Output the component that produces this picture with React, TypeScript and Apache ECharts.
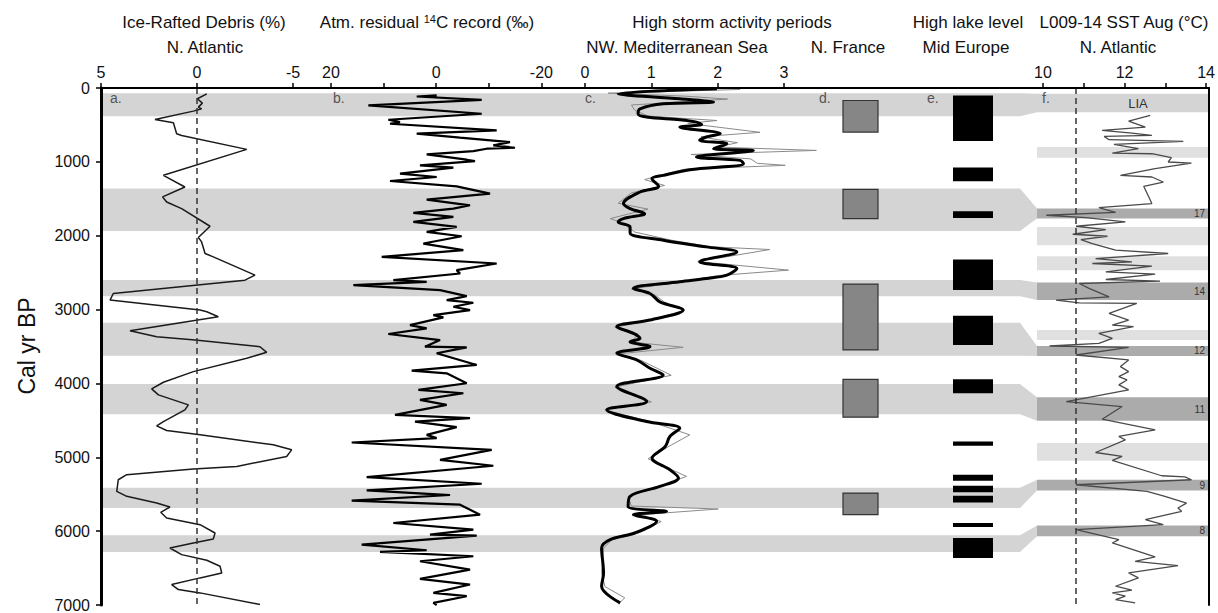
import React, { useEffect, useRef } from 'react';
import * as echarts from 'echarts';

const FONT = '"Liberation Sans", Arial, Helvetica, sans-serif';

// ---- data: [value, cal yr BP] ----
const irdData: number[][] = [
  [-0.51, 79], [-0.02, 146], [-0.28, 205], [-0.07, 259], [-0.24, 282], [0.19, 313], [2.19, 426], [1.23, 471],
  [1.06, 619], [0.8, 642], [-2.59, 831], [1.75, 1182], [0.63, 1340], [1.79, 1475], [1.58, 1543], [0.8, 1633],
  [-0.68, 1872], [-0.07, 2025], [-0.24, 2084], [-0.42, 2241], [-0.85, 2286], [-3.02, 2534], [-2.5, 2602],
  [4.36, 2782], [4.53, 2872], [-0.16, 3007], [-0.51, 3030], [-1.11, 3097], [3.49, 3286], [2.1, 3368], [0.1, 3413],
  [-3.28, 3503], [-3.63, 3579], [-2.59, 3660], [0.19, 3840], [1.75, 3984], [2.36, 4074], [2.01, 4155], [0.45, 4290],
  [0.63, 4358], [1.75, 4516], [2.1, 4574], [1.58, 4637], [-0.16, 4696], [-3.97, 4831], [-4.93, 4899], [-4.67, 4989],
  [-2.07, 5124], [0.19, 5160], [3.66, 5236], [4.1, 5304], [4.18, 5462], [3.66, 5529], [2.1, 5619], [1.41, 5673],
  [1.89, 5745], [1.58, 5822], [-0.16, 5912], [-0.94, 6025], [-0.85, 6106], [0.19, 6160], [1.41, 6228], [0.8, 6318],
  [-0.51, 6394], [-1.2, 6475], [-1.29, 6566], [-0.16, 6633], [1.32, 6723], [0.97, 6791], [-0.16, 6836], [-3.28, 6993]
];

const c14Data: number[][] = [
  [-0.09, 101], [3.71, 115], [-8.65, 160], [12.9, 236], [-8.65, 349], [9.1, 430], [6.88, 462], [8.78, 484],
  [-11.5, 574], [3.71, 619], [-4.53, 673], [-14.03, 732], [-10.86, 777], [-14.98, 809], [-9.6, 822], [-7.06, 854],
  [1.81, 899], [-5.8, 971], [-7.38, 989], [3.08, 1047], [-3.26, 1079], [6.88, 1160], [-0.09, 1205], [8.78, 1259],
  [-3.89, 1331], [-10.23, 1430], [1.81, 1511], [-6.43, 1588], [-3.26, 1633], [4.34, 1692], [-3.26, 1746],
  [4.34, 1813], [-3.89, 1881], [1.81, 1948], [-4.84, 2007], [2.44, 2106], [-5.16, 2196], [10.36, 2286],
  [-11.5, 2376], [-3.89, 2466], [-4.53, 2512], [8.15, 2602], [1.81, 2624], [15.75, 2669], [-0.73, 2737],
  [-5.8, 2818], [-1.99, 2872], [-7.06, 2908], [-3.26, 2962], [-6.43, 3007], [0.54, 3075], [-1.36, 3106],
  [4.98, 3210], [1.81, 3255], [9.1, 3331], [-0.73, 3413], [2.13, 3502], [-5.8, 3511], [-0.09, 3592], [-7.7, 3750],
  [4.66, 3826], [-1.99, 3863], [-5.8, 3998], [3.39, 4088], [-5.16, 4133], [3.08, 4223], [-1.99, 4290], [7.83, 4426],
  [-6.43, 4471], [4.03, 4516], [-3.89, 4592], [1.81, 4696], [-0.09, 4741], [16.07, 4800], [-10.55, 4899],
  [-0.73, 5034], [-10.86, 5115], [13.22, 5268], [-8.65, 5358], [13.22, 5448], [-2.63, 5511], [16.07, 5588],
  [-4.53, 5642], [-8.33, 5777], [8.15, 5890], [-7.06, 5980], [1.18, 6047], [-7.7, 6061], [14.17, 6183],
  [1.81, 6259], [10.68, 6282], [-7.06, 6340], [3.08, 6408], [-6.43, 6520], [3.08, 6647], [-6.43, 6723],
  [0.54, 6836], [-5.8, 6881], [0.54, 6971], [-0.09, 7000]
];

const stormSmooth: number[][] = [
  [1.99, 11], [0.5, 79], [1.43, 146], [1.94, 191], [1.18, 214], [0.83, 282], [0.8, 349], [0.93, 394], [1.43, 430],
  [1.68, 462], [1.76, 493], [1.43, 529], [2.04, 619], [1.83, 664], [1.73, 709], [2.14, 754], [1.94, 822],
  [2.54, 845], [1.68, 935], [2.34, 980], [2.39, 1025], [1.58, 1106], [1.18, 1183], [1.01, 1228], [1.11, 1331],
  [0.83, 1408], [0.58, 1565], [0.68, 1633], [0.9, 1701], [0.58, 1768], [0.5, 1813], [0.68, 1881], [0.68, 1962],
  [1.18, 2061], [1.83, 2151], [2.29, 2219], [1.73, 2354], [2.29, 2444], [2.14, 2534], [1.83, 2579], [1.43, 2624],
  [0.73, 2714], [0.98, 2782], [1.13, 2895], [1.48, 3007], [0.98, 3142], [0.48, 3232], [0.73, 3322], [0.83, 3390],
  [0.68, 3435], [0.98, 3502], [0.48, 3592], [0.78, 3682], [0.98, 3795], [1.18, 3885], [0.48, 4043], [0.93, 4245],
  [0.33, 4358], [0.93, 4516], [1.43, 4606], [1.28, 4718], [1.21, 4854], [1.01, 5011], [1.28, 5169], [1.41, 5282],
  [1.13, 5394], [0.68, 5529], [0.65, 5665], [1.23, 5732], [0.73, 5777], [1.08, 5867], [0.75, 6025], [0.38, 6115],
  [0.25, 6228], [0.28, 6566], [0.25, 6746], [0.53, 6971]
];

const stormRaw: number[][] = [
  [2.34, 20], [0.35, 70], [1.5, 110], [2.15, 150], [0.7, 230], [0.75, 300], [0.95, 380], [1.99, 440], [1.55, 480],
  [2.64, 600], [1.75, 660], [2.0, 700], [2.3, 740], [2.0, 800], [3.49, 845], [1.6, 900], [2.5, 960], [2.6, 1020],
  [3.02, 1047], [1.5, 1100], [1.1, 1190], [0.9, 1240], [1.2, 1320], [0.7, 1420], [0.5, 1560], [0.95, 1640],
  [0.38, 1768], [0.55, 1820], [0.75, 1950], [1.3, 2060], [1.9, 2150], [2.79, 2187], [1.7, 2350], [3.07, 2466],
  [2.0, 2540], [1.5, 2620], [0.7, 2720], [1.05, 2800], [1.2, 2900], [1.5, 3010], [1.0, 3140], [0.45, 3240],
  [0.8, 3330], [0.7, 3440], [1.48, 3511], [0.5, 3600], [0.85, 3690], [1.1, 3800], [1.3, 3890], [0.45, 4050],
  [1.0, 4250], [0.3, 4360], [1.0, 4520], [1.58, 4696], [1.25, 4860], [0.95, 5020], [1.53, 5259], [1.1, 5400],
  [0.65, 5530], [0.7, 5660], [2.01, 5700], [0.8, 5780], [1.15, 5870], [0.8, 6030], [0.4, 6120], [0.28, 6230],
  [0.25, 6560], [0.3, 6750], [0.6, 6903], [0.5, 6990]
];

const sstData: number[][] = [
  [12.63, 372], [12.1, 448], [12.51, 529], [11.45, 574], [12.18, 610], [12.67, 642], [11.5, 655], [11.62, 700],
  [13.44, 723], [11.74, 764], [12.34, 822], [11.7, 881], [12.67, 890], [13.15, 944], [13.07, 1002], [13.64, 1016],
  [12.75, 1092], [11.9, 1182], [12.67, 1205], [12.95, 1273], [12.47, 1331], [12.67, 1565], [11.37, 1620],
  [11.78, 1683], [10.08, 1723], [11.05, 1755], [12.02, 1813], [10.81, 1872], [11.54, 1917], [10.73, 1980],
  [11.58, 2007], [10.93, 2052], [11.21, 2106], [11.78, 2196], [13.07, 2241], [11.29, 2309], [12.18, 2354],
  [11.21, 2376], [12.67, 2412], [11.54, 2489], [12.75, 2520], [11.54, 2593], [12.87, 2615], [10.89, 2647],
  [11.13, 2714], [11.62, 2827], [10.32, 2872], [10.89, 2908], [12.3, 2917], [11.62, 3052], [12.1, 3142],
  [11.7, 3210], [12.22, 3232], [11.37, 3322], [11.7, 3390], [11.37, 3458], [10.16, 3493], [12.1, 3511],
  [10.81, 3615], [12.1, 3682], [11.9, 3772], [12.1, 3840], [11.86, 3908], [12.06, 3953], [11.86, 4020],
  [12.1, 4088], [10.57, 4245], [11.94, 4313], [11.45, 4484], [12.75, 4628], [11.86, 4718], [12.02, 4764],
  [11.29, 4935], [11.94, 4989], [11.7, 5043], [12.91, 5250], [13.48, 5265], [13.64, 5304], [10.81, 5372],
  [12.55, 5462], [12.99, 5529], [13.52, 5620], [13.31, 5687], [13.4, 5732], [12.51, 5845], [12.95, 5912],
  [10.81, 5980], [11.86, 6115], [11.7, 6160], [12.75, 6349], [12.26, 6408], [13.31, 6466], [12.1, 6566],
  [12.34, 6633], [11.78, 6746], [12.18, 6800], [11.7, 6836], [12.02, 6881], [11.78, 6926], [12.26, 6971]
];

// [start, end] of N. France storm periods and Mid-Europe high lake levels
const franceStorms: number[][] = [[169, 597], [1372, 1768], [2655, 3547], [3944, 4457], [5484, 5777]];
const lakeLevels: number[][] = [
  [101, 719], [1078, 1264], [1669, 1759], [2322, 2736], [3083, 3480], [3944, 4133], [4786, 4845],
  [5236, 5318], [5385, 5475], [5520, 5611], [5889, 5943], [6092, 6362]
];

// main band [start, end] -> matching SST band [start, end]
const mainBands: number[][] = [
  [70, 381, 79, 327], [1362, 1935, 1632, 1768], [2601, 2818, 2633, 2872], [3178, 3624, 3493, 3628],
  [4007, 4419, 4187, 4507], [5412, 5686, 5304, 5449], [6057, 6281, 5922, 6070]
];
const sstCold: number[][] = [[1632, 1768], [2633, 2872], [3493, 3628], [4187, 4507], [5304, 5449], [5922, 6070]];
const sstColdLabels = ['17', '14', '12', '11', '9', '8'];
const sstLight: number[][] = [[800, 943], [1881, 2128], [2277, 2466], [3277, 3412], [4808, 5047]];
const liaBand: number[][] = [[79, 327]];

const yTicks = [0, 1000, 2000, 3000, 4000, 5000, 6000, 7000];
const irdTicks = [5, 0, -5];
const c14Ticks = [20, 10, 0, -10, -20];
const c14Labels = [20, 0, -20];
const stormTicks = [0, 1, 2, 3];
const sstTicks = [10, 11, 12, 13, 14];
const sstLabels = [10, 12, 14];

const BAND = '#d4d4d4';
const BAND_F_LIGHT = '#e0e0e0';
const BAND_DARK = '#ababab';
const JOIN_X = 1020;
const F_X = 1037;

const TOP = 88;
const HEIGHT = 517;

function topAxis(gridIndex: number, min: number, max: number, inverse: boolean, ticks: number[], labels: number[]) {
  return {
    gridIndex, type: 'value', position: 'top', min, max, inverse, z: 10,
    axisLine: { show: true, lineStyle: { color: '#000', width: 2 } },
    axisTick: { show: true, customValues: ticks, length: 5, lineStyle: { color: '#000', width: 1.5 } },
    axisLabel: { show: true, customValues: labels, fontSize: 16, color: '#111', fontFamily: FONT, margin: 8,
      formatter: (v: number) => String(v) },
    splitLine: { show: false }
  };
}
function hiddenX(gridIndex: number) {
  return { gridIndex, type: 'value', min: 0, max: 1, show: false, splitLine: { show: false } };
}
function hiddenY(gridIndex: number) {
  return { gridIndex, type: 'value', min: 0, max: 7000, inverse: true, show: false, splitLine: { show: false } };
}

function buildOption(): any {
  const grids = [
    { left: 101, top: TOP, width: 1108, height: HEIGHT },
    { left: 101, top: TOP, width: 230, height: HEIGHT },
    { left: 331, top: TOP, width: 254, height: HEIGHT },
    { left: 585, top: TOP, width: 458, height: HEIGHT },
    { left: 843, top: TOP, width: 35, height: HEIGHT },
    { left: 953, top: TOP, width: 40, height: HEIGHT },
    { left: 1043, top: TOP, width: 165, height: HEIGHT }
  ];
  const xAxis = [
    { gridIndex: 0, type: 'value', position: 'bottom', min: 0, max: 1, z: 10,
      axisLine: { show: true, lineStyle: { color: '#000', width: 2 } },
      axisTick: { show: false }, axisLabel: { show: false }, splitLine: { show: false } },
    topAxis(1, -6.98, 5, true, irdTicks, irdTicks),
    topAxis(2, -28.29, 20, true, c14Ticks, c14Labels),
    topAxis(3, 0, 6.908, false, stormTicks, stormTicks),
    hiddenX(4),
    hiddenX(5),
    topAxis(6, 10, 14, false, sstTicks, sstLabels)
  ];
  const yAxis = [
    { gridIndex: 0, type: 'value', min: 0, max: 7000, interval: 1000, inverse: true, position: 'left', z: 10,
      axisLine: { show: true, lineStyle: { color: '#000', width: 3 } },
      axisTick: { show: true, length: 5, lineStyle: { color: '#000', width: 1.5 } },
      axisLabel: { show: true, fontSize: 16, color: '#111', fontFamily: FONT, margin: 11,
        customValues: yTicks, formatter: (v: number) => String(v) },
      splitLine: { show: false } },
    { gridIndex: 0, type: 'value', min: 0, max: 7000, inverse: true, position: 'right', z: 10,
      axisLine: { show: true, lineStyle: { color: '#000', width: 2 } },
      axisTick: { show: false }, axisLabel: { show: false }, splitLine: { show: false } },
    hiddenY(1), hiddenY(2), hiddenY(3), hiddenY(4), hiddenY(5), hiddenY(6)
  ];

  const dashed = (v: number) => ({
    silent: true, symbol: ['none', 'none'], label: { show: false },
    lineStyle: { type: [6, 4], color: '#333', width: 1.5 },
    data: [{ xAxis: v }]
  });

  const series: any[] = [
    {
      type: 'custom', name: 'bands', xAxisIndex: 0, yAxisIndex: 0, z: 1, silent: true,
      data: mainBands,
      renderItem: (params: any, api: any) => {
        const cs = params.coordSys;
        const left = cs.x;
        const y1 = api.coord([0, api.value(0)])[1];
        const y2 = api.coord([0, api.value(1)])[1];
        const y3 = api.coord([0, api.value(2)])[1];
        const y4 = api.coord([0, api.value(3)])[1];
        return {
          type: 'polygon',
          shape: { points: [[left, y1], [JOIN_X, y1], [F_X, y3], [F_X, y4], [JOIN_X, y2], [left, y2]] },
          style: { fill: BAND }
        };
      }
    },
    {
      type: 'custom', name: 'sstLight', xAxisIndex: 0, yAxisIndex: 0, z: 1, silent: true,
      data: sstLight,
      renderItem: (params: any, api: any) => {
        const cs = params.coordSys;
        const y1 = api.coord([0, api.value(0)])[1];
        const y2 = api.coord([0, api.value(1)])[1];
        return { type: 'rect', shape: { x: F_X, y: y1, width: cs.x + cs.width - F_X, height: y2 - y1 }, style: { fill: BAND_F_LIGHT } };
      }
    },
    {
      type: 'custom', name: 'lia', xAxisIndex: 0, yAxisIndex: 0, z: 1, silent: true,
      data: liaBand,
      renderItem: (params: any, api: any) => {
        const cs = params.coordSys;
        const y1 = api.coord([0, api.value(0)])[1];
        const y2 = api.coord([0, api.value(1)])[1];
        const right = cs.x + cs.width;
        return {
          type: 'group',
          children: [
            { type: 'rect', shape: { x: F_X, y: y1, width: right - F_X, height: y2 - y1 }, style: { fill: BAND } },
            { type: 'text', x: 1138, y: (y1 + y2) / 2 + 1, style: { text: 'LIA', fontSize: 13, fontFamily: FONT, fill: '#333', align: 'center', verticalAlign: 'middle' } }
          ]
        };
      }
    },
    {
      type: 'custom', name: 'sstCold', xAxisIndex: 0, yAxisIndex: 0, z: 1, silent: true,
      data: sstCold,
      renderItem: (params: any, api: any) => {
        const cs = params.coordSys;
        const y1 = api.coord([0, api.value(0)])[1];
        const y2 = api.coord([0, api.value(1)])[1];
        const right = cs.x + cs.width;
        return {
          type: 'group',
          children: [
            { type: 'rect', shape: { x: F_X, y: y1, width: right - F_X, height: y2 - y1 }, style: { fill: BAND_DARK } },
            { type: 'text', x: right - 4, y: (y1 + y2) / 2, style: { text: sstColdLabels[params.dataIndex], fontSize: 10, fontFamily: FONT, fill: '#333', align: 'right', verticalAlign: 'middle' } }
          ]
        };
      }
    },
    {
      type: 'line', name: 'IRD', xAxisIndex: 1, yAxisIndex: 2, z: 3, data: irdData,
      showSymbol: false, symbol: 'none', lineStyle: { color: '#1a1a1a', width: 1.5 },
      markLine: dashed(0)
    },
    {
      type: 'line', name: '14C', xAxisIndex: 2, yAxisIndex: 3, z: 3, data: c14Data,
      showSymbol: false, symbol: 'none', lineStyle: { color: '#000', width: 2.2 }
    },
    {
      type: 'line', name: 'storm raw', xAxisIndex: 3, yAxisIndex: 4, z: 3, data: stormRaw,
      showSymbol: false, symbol: 'none', lineStyle: { color: '#8a8a8a', width: 1 }
    },
    {
      type: 'line', name: 'storm', xAxisIndex: 3, yAxisIndex: 4, z: 4, data: stormSmooth,
      showSymbol: false, symbol: 'none', smooth: 0.35, lineStyle: { color: '#000', width: 3 }
    },
    {
      type: 'custom', name: 'N. France', xAxisIndex: 4, yAxisIndex: 5, z: 3, data: franceStorms,
      renderItem: (params: any, api: any) => {
        const cs = params.coordSys;
        const y1 = api.coord([0, api.value(0)])[1];
        const y2 = api.coord([0, api.value(1)])[1];
        return { type: 'rect', shape: { x: cs.x, y: y1, width: cs.width, height: y2 - y1 }, style: { fill: '#868686', stroke: '#333', lineWidth: 1.2 } };
      }
    },
    {
      type: 'custom', name: 'Mid Europe', xAxisIndex: 5, yAxisIndex: 6, z: 3, data: lakeLevels,
      renderItem: (params: any, api: any) => {
        const cs = params.coordSys;
        const y1 = api.coord([0, api.value(0)])[1];
        const y2 = api.coord([0, api.value(1)])[1];
        return { type: 'rect', shape: { x: cs.x, y: y1, width: cs.width, height: y2 - y1 }, style: { fill: '#000' } };
      }
    },
    {
      type: 'line', name: 'SST', xAxisIndex: 6, yAxisIndex: 7, z: 3, data: sstData,
      showSymbol: false, symbol: 'none', lineStyle: { color: '#4a4a4a', width: 1.3 },
      markLine: dashed(10.8)
    }
  ];

  const t = (text: string, x: number, y: number, size = 17, align = 'center', fill = '#111') => ({
    type: 'text', x, y, z: 20,
    style: { text, fontSize: size, fontFamily: FONT, fill, align, verticalAlign: 'middle' }
  });

  const graphic = [
    t('Ice-Rafted Debris (%)', 204, 22),
    {
      type: 'text', x: 427, y: 22, z: 20,
      style: {
        text: '{n|Atm. residual }{s|14}{n|C record (‰)}', align: 'center', verticalAlign: 'middle',
        rich: {
          n: { fontSize: 17, fontFamily: FONT, fill: '#111', verticalAlign: 'bottom' },
          s: { fontSize: 11, fontFamily: FONT, fill: '#111', verticalAlign: 'top' }
        }
      }
    },
    t('High storm activity periods', 732, 22),
    t('High lake level', 968, 22),
    t('L009-14 SST Aug (°C)', 1124, 22),
    t('N. Atlantic', 205, 47),
    t('NW. Mediterranean Sea', 677, 47),
    t('N. France', 848, 47),
    t('Mid Europe', 966, 47),
    t('N. Atlantic', 1118, 47),
    t('a.', 110, 98, 14, 'left', '#555'),
    t('b.', 333, 98, 14, 'left', '#555'),
    t('c.', 585, 98, 14, 'left', '#555'),
    t('d.', 819, 98, 14, 'left', '#555'),
    t('e.', 927, 98, 14, 'left', '#555'),
    t('f.', 1042, 98, 14, 'left', '#555'),
    {
      type: 'text', x: 27, y: 346, rotation: Math.PI / 2, z: 20,
      style: { text: 'Cal yr BP', fontSize: 23, fontFamily: FONT, fill: '#111', align: 'center', verticalAlign: 'middle' }
    }
  ];

  return { animation: false, backgroundColor: '#fff', grid: grids, xAxis, yAxis, series, graphic };
}

export default function App() {
  const ref = useRef<HTMLDivElement>(null);
  useEffect(() => {
    if (!ref.current) return;
    const chart = echarts.init(ref.current, null, { renderer: 'svg' });
    chart.setOption(buildOption());
    return () => chart.dispose();
  }, []);
  return <div ref={ref} style={{ position: 'absolute', left: 0, top: 0, width: 1218, height: 613 }} />;
}
